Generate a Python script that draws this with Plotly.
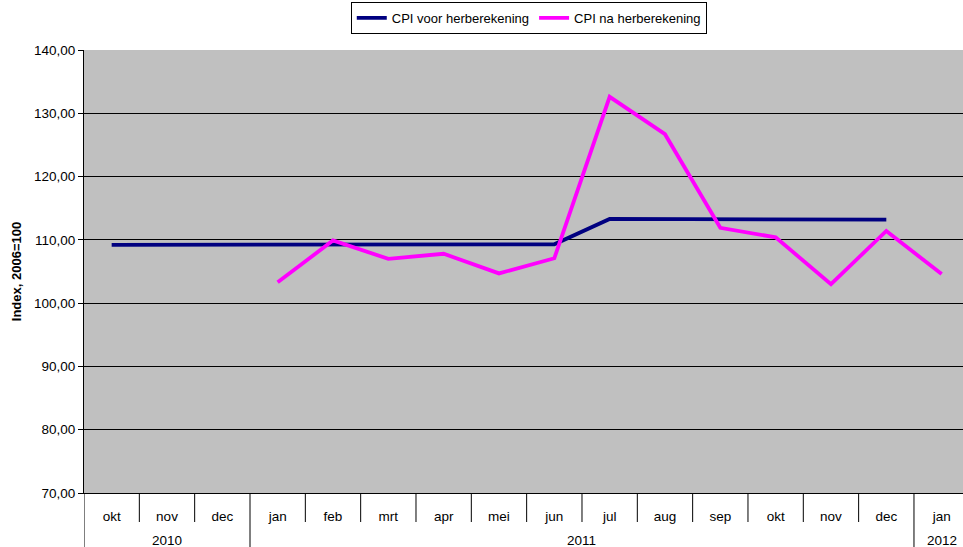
import plotly.graph_objects as go

years = ["2010", "2010", "2010", "2011", "2011", "2011", "2011", "2011", "2011",
         "2011", "2011", "2011", "2011", "2011", "2011", "2012"]
months = ["okt", "nov", "dec", "jan", "feb", "mrt", "apr", "mei", "jun",
          "jul", "aug", "sep", "okt", "nov", "dec", "jan"]
cpi_voor = [109.2, 109.2, 109.3, 109.3, 109.3, 109.3, 109.3, 109.3, 109.3,
            113.3, 113.3, 113.3, 113.3, 113.3, 113.2, None]
cpi_na = [None, None, None, 103.3, 109.9, 107.0, 107.8, 104.7, 107.1,
          132.6, 126.7, 111.9, 110.4, 103.0, 111.4, 104.6]

xpos = list(range(len(months)))
plot_h = 547 - 50 - 54

fig = go.Figure()
fig.add_trace(go.Scatter(x=xpos, y=cpi_voor, mode="lines",
                         name="CPI voor herberekening",
                         line=dict(color="#000080", width=3.8)))
fig.add_trace(go.Scatter(x=xpos, y=cpi_na, mode="lines",
                         name="CPI na herberekening",
                         line=dict(color="#FF00FF", width=3.8)))

shapes = []
annotations = []
# month boundary ticks
for i in range(1, len(months)):
    if years[i] == years[i - 1]:
        shapes.append(dict(type="line", xref="x", yref="paper",
                           x0=i - 0.5, x1=i - 0.5, y0=0, y1=-29 / plot_h,
                           line=dict(color="black", width=1)))
# year dividers and labels
groups = []
start = 0
for i in range(1, len(years) + 1):
    if i == len(years) or years[i] != years[start]:
        groups.append((years[start], start, i - 1))
        start = i
for yr, s, e in groups:
    shapes.append(dict(type="line", xref="x", yref="paper",
                       x0=s - 0.5, x1=s - 0.5, y0=0, y1=-60 / plot_h,
                       line=dict(color="black", width=1)))
    annotations.append(dict(text=yr, xref="x", yref="paper",
                            x=(s + e) / 2, y=-47 / plot_h, yanchor="middle",
                            showarrow=False, font=dict(size=13.5)))

fig.update_layout(
    width=963, height=547,
    margin=dict(l=84, r=0, t=50, b=54),
    paper_bgcolor="white", plot_bgcolor="#C0C0C0",
    separators=",.",
    font=dict(family="Liberation Sans, Arial, sans-serif", size=13.5, color="black"),
    showlegend=True,
    legend=dict(orientation="h", x=0.506, xanchor="center",
                yref="container", y=1 - 18 / 547, yanchor="middle",
                bordercolor="black", borderwidth=1, bgcolor="white",
                font=dict(size=13), tracegroupgap=0),
    xaxis=dict(range=[-0.5, 15.386], automargin=False,
               tickvals=xpos, ticktext=months, ticks="", ticklabelstandoff=11,
               showgrid=False, zeroline=False, showline=True,
               linecolor="black", linewidth=1, tickfont=dict(size=13.5)),
    yaxis=dict(range=[70, 140], dtick=10, tickformat=".2f", automargin=False,
               showgrid=True, gridcolor="black", gridwidth=1, zeroline=False,
               showline=True, linecolor="black", linewidth=1,
               ticks="outside", ticklen=5, tickcolor="black",
               tickfont=dict(size=13.5),
               title=dict(text="<b>Index, 2006=100</b>", font=dict(size=13), standoff=9)),
    shapes=shapes,
    annotations=annotations,
)

fig.write_html("out.html", config={"displayModeBar": False},
               post_script="document.body.style.margin='0';document.body.style.overflow='hidden';")
